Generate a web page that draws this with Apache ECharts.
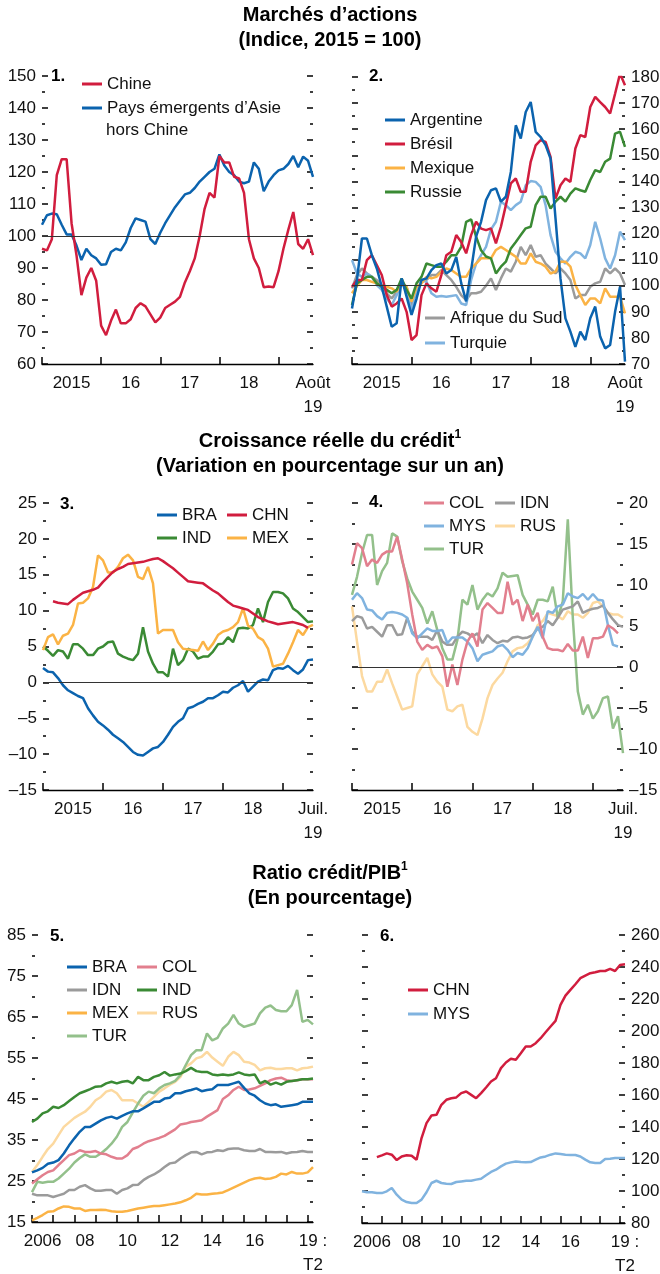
<!DOCTYPE html>
<html>
<head>
<meta charset="utf-8">
<script src="https://cdn.jsdelivr.net/npm/echarts@6/dist/echarts.min.js"></script>
<style>
  html, body { margin: 0; padding: 0; background: #fff; }
  #chart { width: 660px; height: 1274px; }
</style>
</head>
<body>
<div id="chart"></div>
<script>
const FONT = '"Liberation Sans", Arial, sans-serif';

// ---- categories ----
function monthCats(n) {
  const out = [];
  for (let i = 0; i < n; i++) {
    const m = i % 12 + 1;
    out.push((2015 + Math.floor(i / 12)) + '-' + (m < 10 ? '0' : '') + m);
  }
  return out;
}
function quarterCats(n) {
  const out = [];
  for (let i = 0; i < n; i++) out.push((2006 + Math.floor(i / 4)) + 'T' + (i % 4 + 1));
  return out;
}
const monthsToAug19 = monthCats(56);   // janv. 2015 - août 2019
const monthsToJul19 = monthCats(55);   // janv. 2015 - juil. 2019
const quarters = quarterCats(54);      // 2006T1 - 2019T2

// tick labels (index in categories -> text)
const stockLabelIdx = [6, 18, 30, 42, 55];
const stockLabelTxt = ['2015', '16', '17', '18', 'Août\n19'];
const creditLabelIdx = [6, 18, 30, 42, 54];
const creditLabelTxt = ['2015', '16', '17', '18', 'Juil.\n19'];
const ratioLabelIdx = [2, 10, 18, 26, 34, 42, 53];
const ratioLabelTxt = ['2006', '08', '10', '12', '14', '16', '19 :\nT2'];

// ---- 1. Marchés d'actions ----
const chine = [96,95.5,99,119,124,124,104,94,81.5,87, 90,86,72,69,73.5,77,72.7,72.7,74,77.5,
  79,78,75.5,73,74.5,77.5,78.5,79.5,81,85.5, 89,93,100,108.5,113.5,112,125,123,123,118.5,
  118,113.5,99,93,90,84,84.2,84,89,96, 102,107.5,97.5,96,99,94];
const asieHorsChine = [103.5,106.5,107,106.8,103.5,100.5,100.5,97,92.5,96, 94,93,91,91.2,95,96,95.5,98,102.5,105.5,
  105,104.5,99,97.5,101,104,106.5,109,111,113, 113.5,115,117,118.5,120,121,125.5,122,120,119,
  117,116.5,117,123,121,114,117,119,120.5,121, 122.5,125,121.5,124.8,123.5,118.5];

// ---- 2. ----
const argentine = [91.3,102.2,118.1,118.1,111.7,106.6,99.6,92,84.3,85.6, 102.8,95.8,88.8,95,102.2,102.8,106,107.9,108.5,104.7,
  106,111,101,94,106,118.8,124.5,132.8,136.6,137.3, 132.2,134.1,143.6,161.5,156.4,166.6,170.4,159,157,153.9,
  148.7,125.8,102.8,87.5,82.4,76.6,82.4,79.2,87.5,92, 80.5,76,77.3,90,99.6,70.9];
const bresil = [99.6,102.2,102.2,109.8,111.7,107.9,104.1,96.4,92,93.2, 95.1,90,79.2,81.1,96.4,100.9,99,97.7,104.1,111.7,
  113,119.4,116.8,112.4,119.4,124.5,121.9,121.3,122,116.2, 122.6,130.9,139.2,141.1,136,136,147.5,153.8,155.8,155.1,
  149.4,133.4,138.5,141.1,139.8,152.6,157.7,157,168.5,172.4, 170.4,168.5,166,173.6,181.3,176.8];
const mexique = [97.1,99.9,102.2,102.2,101.5,100.9,100.2,99.6,99,97.7, 100.9,99.6,93.9,99.6,100.9,103.4,102.8,103.4,105.3,106.6,
  106,104.7,103.4,103.4,106.6,108.5,110.5,110.5,110.5,113.7, 114.9,113.7,112.4,111.1,108.5,108.5,112.4,109.2,108.5,107.3,
  104.7,105.4,109.2,109.2,107.3,100.3,96.4,92.6,95.1,95.1, 93.2,99,95.8,95.8,95.8,89.4];
const russie = [92.6,100.9,102.2,103.4,103.4,100.9,99.6,98.4,97.1,98.4, 102.8,98.4,95.1,100.9,103.4,108.5,107.9,107.3,107.3,109.2,
  111.7,111.7,114.9,124.5,125.4,118.8,113.6,111.2,110.5,104.7, 107.3,109.2,114.3,116.8,119.4,122,122.6,130.9,134.1,134.1,
  129.6,132.2,134.1,132.2,135.3,137.3,136.6,136,140.5,144.3, 143.6,147.5,148.7,158.3,159,153.2];
const afriqueSud = [99,104.1,106.6,104.7,103.4,102.2,100.2,97.1,95.1,97.7, 101.5,99.6,92,97.7,101.5,102.2,104.1,104.1,106,104.1,
  102.2,99.6,96.4,94.5,97.1,97.1,97.7,100,102.8,98.4, 102.8,106.6,105.4,109.2,114.9,111.7,115.6,111.1,111.7,108.5,
  106.6,104.7,106.6,104.7,102.2,95.1,96.4,96.4,99.6,100.9, 101.5,106.6,104.7,106.6,104.7,100.3];
const turquie = [109.8,104.7,103.4,104.7,103.4,100.2,98.4,95.1,92.6,96.4, 101.5,97.7,90.7,97.1,102.2,101.5,97.1,95.8,96.1,95.8,
  96.1,96.4,93.2,92.6,102.2,108.5,111.7,114.9,121.6,124.5, 132.2,130.9,129,130.9,132.2,138.5,140.1,139.8,137.9,130.9,
  119.4,113,110.5,108.5,111.1,113,112.4,110.5,115.6,124.5, 118.1,110.5,106.6,111.7,120.7,117.5];

// ---- 3. Croissance réelle du crédit ----
const braCredit = [2.0,1.5,1.4,0.6,-0.4,-1.1,-1.5,-1.9,-2.2,-3.6, -4.6,-5.5,-6.0,-6.6,-7.3,-7.8,-8.3,-9.0,-9.7,-10.1,
  -10.2,-9.7,-9.2,-9.0,-8.3,-7.3,-6.2,-5.5,-5.0,-3.6, -3.4,-3.0,-2.7,-2.2,-2.2,-1.8,-1.3,-1.4,-0.75,-0.4,
  0.2,-1.3,-0.6,0.1,0.4,0.3,1.7,2.0,1.9,2.3, 1.7,1.2,1.8,3.1,3.2];
const chnCredit = [null,null,11.3,11.1,11.0,10.9,11.5,12.0,12.5,12.7, 12.9,13.2,14.0,14.7,15.4,15.8,16.1,16.5,16.6,16.7,
  16.8,17.0,17.2,17.3,16.9,16.4,15.9,15.3,14.7,14.1, 14.0,13.9,13.8,13.3,12.8,12.4,11.8,11.2,10.7,10.5,
  10.3,10.1,9.6,9.1,8.8,8.5,8.3,8.1,8.2,8.3, 8.4,8.2,8.0,7.6,null];
const indCredit = [5.0,4.4,3.7,4.5,4.3,3.3,5.3,5.3,4.7,3.8, 3.8,4.7,5.0,5.6,5.7,4.0,3.6,3.3,3.1,4.0,
  7.7,4.3,2.6,1.4,1.4,0.8,4.7,2.4,3.1,4.7, 4.3,3.3,3.6,3.6,4.3,5.3,5.4,6.3,5.6,7.5,
  7.6,7.5,8.0,10.3,8.4,11.2,12.6,12.6,12.4,11.7, 10.3,9.8,9.1,8.4,8.5];
const mexCredit = [4.5,6.3,6.7,5.3,6.5,6.8,8.0,11.0,11.1,11.7, 13.3,17.7,17.0,15.3,15.3,16.1,17.3,17.8,17.0,14.7,
  14.4,16.1,13.8,6.8,7.3,7.3,7.3,5.6,4.7,4.6, 4.5,4.4,5.7,4.5,5.4,6.6,7.1,7.3,7.7,8.4,
  10.3,7.9,7.5,6.3,5.9,4.7,2.2,2.4,2.6,4.0, 5.6,7.3,6.6,7.7,8.0];

// ---- 4. ----
const colCredit = [12.5,15.1,14.5,12.3,13.1,12.7,13.7,14.1,14.1,15.9, 13.1,10.2,6.4,3.1,2.1,2.7,2.3,2.5,1.3,-2.4,
  0.3,-2.2,0.9,3.1,4.1,2.5,7.0,7.8,7.2,6.6, 6.6,10.4,7.6,8.2,5.6,7.6,5.6,6.6,3.7,2.3,
  2.1,2.1,1.9,2.8,2.0,2.0,3.7,1.1,3.5,3.5, 3.7,5.1,4.7,4.1,null];
const mysCredit = [8.2,9.0,8.4,7.0,6.9,6.2,5.8,6.6,6.7,6.6, 6.4,6.0,4.1,3.5,4.1,4.7,4.4,4.4,4.5,2.9,
  3.6,3.6,3.6,3.1,2.3,0.7,1.5,1.7,1.9,2.5, 2.7,2.1,1.2,1.7,1.5,2.3,3.7,4.9,3.5,6.8,
  6.6,7.4,7.6,9.0,8.6,8.4,8.9,8.2,8.9,8.2, 8.1,5.1,2.7,2.5,null];
const turCredit = [8.8,11.0,13.9,16.1,16.1,10.0,11.7,12.7,16.3,15.9, 12.9,10.8,9.2,8.2,7.2,5.3,6.8,4.5,2.3,0.9,
  0.9,3.3,8.2,7.6,10.0,7.0,8.2,9.0,8.6,9.6, 11.5,11.0,11.1,11.2,8.8,7.6,6.4,8.2,8.2,8.0,
  9.8,6.0,8.0,18.0,6.0,-3.0,-5.8,-4.6,-6.3,-5.4, -3.8,-3.6,-7.5,-6.0,-10.5];
const idnCredit = [5.6,6.2,6.0,4.7,4.9,4.3,3.7,5.1,5.1,3.9, 4.0,6.0,4.3,3.7,3.7,3.7,3.3,4.5,3.1,2.7,
  2.7,3.7,4.3,4.1,3.7,4.1,2.9,3.9,3.3,2.9, 3.2,3.1,3.6,3.7,3.5,3.6,3.9,4.7,4.9,5.6,
  5.1,6.0,7.0,7.2,7.4,8.0,6.6,6.9,7.1,7.2, 7.5,6.6,5.8,5.1,4.9];
const rusCredit = [7.4,3.1,-1.1,-3.0,-3.0,-1.8,-1.8,-0.3,-2.0,-3.6, -5.2,-5.0,-4.8,-0.9,0.1,1.1,-0.9,-1.8,-2.4,-5.2,
  -5.4,-4.8,-4.6,-7.3,-7.9,-8.3,-6.3,-3.8,-2.2,-1.4, -0.7,0.7,1.9,2.3,2.4,2.9,3.7,5.1,5.6,6.6,
  6.4,6.2,5.8,6.8,6.4,6.4,6.0,6.6,7.8,8.0, 7.4,6.6,6.4,6.4,6.0];

// ---- 5. Ratio crédit/PIB ----
const braRatio = [27.1,27.6,28.2,29.2,29.5,30.1,31.7,33.7,35.4,37.0, 38.2,38.2,39.0,39.8,40.4,40.7,40.2,40.9,41.5,42.0,
  42.0,42.7,43.5,44.3,44.3,45.1,45.3,46.4,46.4,46.9, 47.2,47.6,46.9,47.2,47.4,48.4,48.4,48.4,48.8,49.2,
  47.7,46.4,45.8,44.7,43.9,43.5,43.7,43.1,43.3,43.5, 43.7,44.3,44.3,44.3];
const colRatio = [24.4,25.4,26.4,27.2,27.6,28.9,30.1,31.3,31.7,32.5, 32.1,32.1,32.3,31.7,31.5,30.9,30.5,30.5,31.3,32.8,
  33.3,34.1,34.7,35.1,35.5,36.0,36.8,37.6,38.8,39.0, 39.4,39.6,39.8,40.7,41.5,42.3,45.0,45.9,47.2,48.0,
  47.2,47.3,47.6,48.2,48.8,49.6,50.0,50.2,49.6,49.4, 49.6,49.8,49.8,49.8];
const idnRatio = [21.9,21.5,21.5,21.5,21.1,21.5,21.9,22.8,22.8,23.6, 24.0,23.2,22.6,22.6,22.8,22.8,21.9,22.8,23.2,24.0,
  24.1,25.2,26.0,26.6,27.4,28.4,29.3,29.5,30.5,31.3, 32.0,32.1,31.5,32.0,32.1,32.5,32.3,32.8,32.9,32.9,
  32.5,32.3,32.3,32.8,32.1,32.1,32.0,32.1,31.7,32.0, 32.1,32.3,32.1,32.1];
const indRatio = [39.4,40.2,41.5,42.0,43.1,42.8,43.5,44.5,45.5,46.4, 46.9,47.4,48.0,48.1,48.8,49.2,48.8,49.2,49.4,48.8,
  50.4,49.6,49.6,50.4,50.8,51.6,50.7,51.0,51.2,51.8, 52.6,51.8,51.6,51.6,51.0,50.8,51.0,50.8,51.0,51.5,
  51.0,50.8,51.0,48.8,49.4,48.5,49.0,48.5,49.2,49.4, 49.6,49.8,49.8,50.0];
const mexRatio = [15.4,16.0,16.7,17.5,17.6,18.3,18.8,18.7,18.3,18.3, 17.7,17.9,17.9,18.0,17.9,17.6,17.5,17.5,17.7,18.0,
  18.3,18.5,18.7,18.9,18.9,19.1,19.3,19.5,19.8,20.3, 20.9,21.9,21.7,21.7,21.9,22.0,22.2,22.8,23.4,24.0,
  24.6,25.2,25.6,25.8,25.5,25.6,26.0,26.8,26.6,27.2, 26.8,26.8,27.1,28.4];
const rusRatio = [27.2,28.9,30.9,32.8,34.1,36.2,38.2,39.3,40.4,41.2, 41.9,43.1,44.7,45.5,46.8,47.2,46.4,44.7,44.7,44.7,
  43.9,43.1,44.3,45.5,46.8,47.6,48.5,49.2,50.4,52.9, 53.7,54.9,55.3,56.5,55.1,54.1,53.1,55.3,56.5,55.7,
  54.1,53.9,53.3,52.0,52.5,52.6,52.3,52.3,52.5,52.5, 52.0,52.5,52.6,52.9];
const turRatio = [22.3,24.8,24.6,24.8,24.8,25.6,26.8,28.0,29.5,30.6, 31.5,30.9,30.9,31.7,32.8,34.1,35.8,38.2,39.4,41.7,
  43.9,45.8,46.8,46.4,47.6,48.4,48.8,49.4,50.8,53.3, 55.7,56.9,56.9,61.0,59.3,59.9,62.2,63.4,65.5,63.4,
  62.6,63.0,63.4,65.9,67.3,67.8,66.7,66.4,66.4,67.9, 71.6,63.8,64.3,63.2];

// ---- 6. ----
const chnRatio = [null,null,null,121.2,122.3,123.5,122.7,119.3,121.6,122.3, 122.0,119.5,133.1,142.4,147.2,147.6,153.9,157.0,158.0,158.5,
  161.2,162.2,160.1,158.0,161.2,164.7,168.4,170.5,176.8,180.3, 182.6,182.0,186.1,190.3,190.3,192.4,195.5,199.2,202.8,206.3,
  216.3,222.1,225.7,229.2,233.0,234.6,236.1,236.7,237.5,237.5, 238.8,237.5,241.3,241.7];
const mysRatio = [99.8,99.2,99.2,98.7,98.7,99.8,101.9,97.7,94.6,93.1, 92.5,92.5,94.6,99.2,105.0,106.4,105.0,104.6,104.4,105.6,
  106.0,106.4,106.4,107.1,107.7,109.8,111.9,113.3,115.4,117.1, 117.9,118.5,118.1,117.9,118.1,119.6,121.0,121.6,122.7,123.5,
  123.1,122.7,122.5,122.5,121.6,119.6,117.9,117.5,117.5,120.0, 120.2,120.6,120.6,120.6];

// ---- colours ----
const RED = '#d11d3e', BLUE = '#0b63ae', YELLOW = '#fbb345', GREEN = '#3a8a34',
      GRAY = '#9b9b9b', LBLUE = '#80b3df', PINK = '#e27f8e', CREAM = '#fcd9a0', SAGE = '#93c08b';

// ---- helpers ----
function xAx(grid, cats, tickEvery, labelIdx, labelTxt) {
  return {
    type: 'category', gridIndex: grid, data: cats, boundaryGap: false,
    axisLine: { show: true, onZero: false, lineStyle: { color: '#000', width: 1.3 } },
    axisTick: { show: true, inside: true, length: 7, interval: (i) => i % tickEvery === 0,
      lineStyle: { color: '#000', width: 1.5 } },
    axisLabel: {
      show: true, interval: (i) => labelIdx.indexOf(i) >= 0,
      formatter: (v, i) => labelTxt[labelIdx.indexOf(i)],
      color: '#111', fontSize: 17, lineHeight: 24, margin: 7, fontFamily: FONT
    }
  };
}
function yAx(grid, pos, min, max, step, labels) {
  return {
    type: 'value', gridIndex: grid, position: pos, min: min, max: max, interval: step,
    axisLine: { show: true, lineStyle: { color: 'rgba(0,0,0,0)' } }, splitLine: { show: false },
    axisTick: { show: true, inside: true, length: 6, lineStyle: { color: '#000', width: 1.5 } },
    minorTick: { show: true, splitNumber: 2, length: 3, lineStyle: { color: '#000', width: 1.5 } },
    axisLabel: { show: labels, color: '#111', fontSize: 17, fontFamily: FONT, margin: 6,
      formatter: (v) => String(v).replace('-', '–') }
  };
}
function line(name, grid, data, color, z) {
  return {
    type: 'line', name: name, xAxisIndex: grid, yAxisIndex: 2 * grid, data: data,
    symbol: 'none', showSymbol: false, connectNulls: false, z: z || 3,
    lineStyle: { color: color, width: 2.5 }, itemStyle: { color: color }
  };
}
function refLine(value) {
  return { silent: true, symbol: 'none', label: { show: false },
    lineStyle: { color: '#333', width: 1, type: 'solid' }, data: [{ yAxis: value }] };
}
const legendBase = {
  icon: 'rect', itemWidth: 20, itemHeight: 3, padding: 0, selectedMode: false,
  textStyle: { fontSize: 17, color: '#111', fontFamily: FONT, lineHeight: 18 }
};
function legend(opts) { return Object.assign({}, legendBase, opts); }
function colLegend(opts, textWidth) {
  return Object.assign({}, legendBase, { orient: 'horizontal', itemGap: 5,
    textStyle: Object.assign({}, legendBase.textStyle, { width: textWidth }) }, opts);
}

const grids = [
  { left: 42, top: 76, width: 271, height: 288 },
  { left: 352, top: 77, width: 273, height: 287 },
  { left: 43, top: 503, width: 270, height: 287 },
  { left: 352, top: 503, width: 271, height: 287 },
  { left: 32, top: 935, width: 281, height: 287 },
  { left: 362, top: 935, width: 263, height: 288 }
].map(g => Object.assign({ outerBoundsMode: 'none', containLabel: false }, g));

const s1a = line('Pays émergents d’Asie', 0, asieHorsChine, BLUE);
const s1b = line('Chine', 0, chine, RED, 4);
s1a.markLine = refLine(100);
const s2a = line('Afrique du Sud', 1, afriqueSud, GRAY);
s2a.markLine = refLine(100);
const s3a = line('BRA', 2, braCredit, BLUE);
s3a.markLine = refLine(0);
const s4a = line('RUS', 3, rusCredit, CREAM);
s4a.markLine = refLine(0);

const panelNum = (txt, x, y) => ({ type: 'text', left: x, top: y,
  style: { text: txt, fontSize: 17, fontWeight: 'bold', fontFamily: FONT, fill: '#000' } });
const supTitle = (main, sub, top) => ({ type: 'text', left: 'center', top: top, style: {
  text: '{t|' + main + '}{s|1}\n{t|' + sub + '}', textAlign: 'center', fill: '#000',
  rich: { t: { fontSize: 20, fontWeight: 'bold', fontFamily: FONT, lineHeight: 25 },
          s: { fontSize: 12, fontWeight: 'bold', fontFamily: FONT, verticalAlign: 'top', lineHeight: 25 } } } });

const option = {
  animation: false,
  grid: grids,
  xAxis: [
    xAx(0, monthsToAug19, 12, stockLabelIdx, stockLabelTxt),
    xAx(1, monthsToAug19, 12, stockLabelIdx, stockLabelTxt),
    xAx(2, monthsToJul19, 12, creditLabelIdx, creditLabelTxt),
    xAx(3, monthsToJul19, 12, creditLabelIdx, creditLabelTxt),
    xAx(4, quarters, 4, ratioLabelIdx, ratioLabelTxt),
    xAx(5, quarters, 4, ratioLabelIdx, ratioLabelTxt)
  ],
  yAxis: [
    yAx(0, 'left', 60, 150, 10, true), yAx(0, 'right', 60, 150, 10, false),
    yAx(1, 'left', 70, 180, 10, false), yAx(1, 'right', 70, 180, 10, true),
    yAx(2, 'left', -15, 25, 5, true), yAx(2, 'right', -15, 25, 5, false),
    yAx(3, 'left', -15, 20, 5, false), yAx(3, 'right', -15, 20, 5, true),
    yAx(4, 'left', 15, 85, 10, true), yAx(4, 'right', 15, 85, 10, false),
    yAx(5, 'left', 80, 260, 20, false), yAx(5, 'right', 80, 260, 20, true)
  ],
  legend: [
    legend({ data: ['Chine', 'Pays émergents d’Asie'], left: 82, top: 75, orient: 'vertical', itemGap: 6 }),
    legend({ data: ['Argentine', 'Brésil', 'Mexique', 'Russie'], left: 385, top: 111, orient: 'vertical', itemGap: 6 }),
    legend({ data: ['Afrique du Sud', 'Turquie'], left: 425, top: 309, orient: 'vertical', itemGap: 7 }),
    colLegend({ data: ['BRA', 'CHN', 'IND', 'MEX'], left: 157, top: 506, width: 140 }, 40),
    colLegend({ data: ['COL', 'IDN', 'MYS', 'RUS', 'TUR'], left: 424, top: 494, width: 142 }, 41),
    colLegend({ data: ['BRA', 'COL', 'IDN', 'IND', 'MEX', 'RUS', 'TUR'], left: 67, top: 958, width: 140 }, 40),
    legend({ data: ['CHN', 'MYS'], left: 408, top: 981, orient: 'vertical', itemGap: 6 })
  ],
  graphic: [
    { type: 'text', left: 'center', top: 3, style: { text: 'Marchés d’actions\n(Indice, 2015 = 100)',
      fontSize: 20, fontWeight: 'bold', fontFamily: FONT, fill: '#000', textAlign: 'center', lineHeight: 25 } },
    supTitle('Croissance réelle du crédit', '(Variation en pourcentage sur un an)', 429),
    supTitle('Ratio crédit/PIB', '(En pourcentage)', 861),
    panelNum('1.', 51, 68), panelNum('2.', 369, 68), panelNum('3.', 60, 496),
    panelNum('4.', 369, 494), panelNum('5.', 50, 928), panelNum('6.', 380, 928),
    { type: 'text', left: 106, top: 122, style: { text: 'hors Chine', fontSize: 17, fontFamily: FONT, fill: '#111' } }
  ],
  series: [
    s1a, s1b,
    s2a, line('Turquie', 1, turquie, LBLUE), line('Mexique', 1, mexique, YELLOW),
    line('Russie', 1, russie, GREEN), line('Brésil', 1, bresil, RED), line('Argentine', 1, argentine, BLUE),
    s3a, line('IND', 2, indCredit, GREEN), line('MEX', 2, mexCredit, YELLOW), line('CHN', 2, chnCredit, RED),
    s4a, line('TUR', 3, turCredit, SAGE), line('IDN', 3, idnCredit, GRAY), line('MYS', 3, mysCredit, LBLUE),
    line('COL', 3, colCredit, PINK),
    line('MEX', 4, mexRatio, YELLOW), line('IDN', 4, idnRatio, GRAY), line('RUS', 4, rusRatio, CREAM),
    line('TUR', 4, turRatio, SAGE), line('COL', 4, colRatio, PINK), line('IND', 4, indRatio, GREEN),
    line('BRA', 4, braRatio, BLUE),
    line('MYS', 5, mysRatio, LBLUE), line('CHN', 5, chnRatio, RED)
  ]
};

const myChart = echarts.init(document.getElementById('chart'));
myChart.setOption(option);
window.addEventListener('resize', () => { myChart.resize(); });
</script>
</body>
</html>
